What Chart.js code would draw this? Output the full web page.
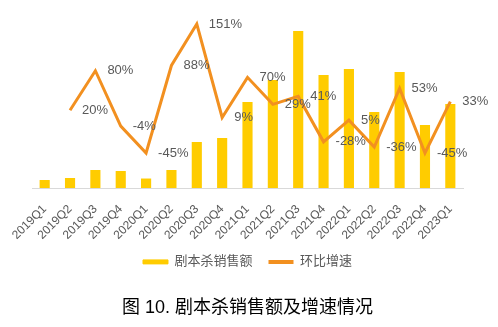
<!DOCTYPE html>
<html>
<head>
<meta charset="utf-8">
<script src="https://cdn.jsdelivr.net/npm/chart.js@4"></script>
<style>
  html, body { margin: 0; padding: 0; background: #fff; }
  #wrap { width: 498px; height: 327px; }
</style>
</head>
<body>
<div id="wrap"><canvas id="c" width="498" height="327"></canvas></div>
<script>
const categories = ['2019Q1','2019Q2','2019Q3','2019Q4','2020Q1','2020Q2','2020Q3','2020Q4',
  '2021Q1','2021Q2','2021Q3','2021Q4','2022Q1','2022Q2','2022Q3','2022Q4','2023Q1'];
// 剧本杀销售额 (relative values)
const salesValues = [8, 10, 18, 17, 9.5, 18, 46, 50, 86, 108, 157, 113, 119, 76, 116, 63, 84];
// 环比增速 (%)
const growthValues = [null, 20, 80, -4, -45, 88, 151, 9, 70, 29, 41, -28, 5, -36, 53, -45, 33];
const seriesNames = ['剧本杀销售额', '环比增速'];
const titleText = '图 10. 剧本杀销售额及增速情况';

const BAR_COLOR = '#FFCC00';
const LINE_COLOR = '#F29020';
const TEXT_COLOR = '#595959';
const FONT = '"Liberation Sans", Arial, "Noto Sans CJK SC", sans-serif';

const labelPlugin = {
  id: 'pctLabels',
  afterDatasetsDraw(chart) {
    const meta = chart.getDatasetMeta(1);
    const ctx = chart.ctx;
    ctx.save();
    ctx.font = '13px ' + FONT;
    ctx.fillStyle = TEXT_COLOR;
    ctx.textAlign = 'left';
    ctx.textBaseline = 'middle';
    meta.data.forEach((pt, i) => {
      const v = growthValues[i];
      if (v === null || v === undefined) return;
      ctx.fillText(v + '%', pt.x + 12, pt.y);
    });
    ctx.restore();
  }
};

new Chart(document.getElementById('c'), {
  data: {
    labels: categories,
    datasets: [
      {
        type: 'bar',
        label: seriesNames[0],
        data: salesValues,
        backgroundColor: BAR_COLOR,
        borderWidth: 0,
        barPercentage: 0.4,
        categoryPercentage: 1,
        yAxisID: 'y',
        order: 2
      },
      {
        type: 'line',
        label: seriesNames[1],
        data: growthValues,
        borderColor: LINE_COLOR,
        backgroundColor: LINE_COLOR,
        borderWidth: 3,
        pointRadius: 0,
        tension: 0,
        spanGaps: false,
        yAxisID: 'y1',
        order: 1
      }
    ]
  },
  options: {
    responsive: false,
    animation: false,
    devicePixelRatio: 1,
    layout: { padding: { left: 32, right: 35, top: 10, bottom: 0 } },
    plugins: {
      tooltip: { enabled: false },
      legend: {
        position: 'bottom',
        labels: {
          sort: (a, b) => a.datasetIndex - b.datasetIndex,
          boxWidth: 25,
          boxHeight: 4,
          padding: 16,
          color: TEXT_COLOR,
          font: { size: 13, family: FONT },
          generateLabels(chart) {
            return chart.data.datasets.map((ds, i) => ({
              text: ds.label,
              fillStyle: ds.type === 'bar' ? BAR_COLOR : LINE_COLOR,
              strokeStyle: ds.type === 'bar' ? BAR_COLOR : LINE_COLOR,
              lineWidth: ds.type === 'bar' ? 1 : 0,
              fontColor: TEXT_COLOR,
              hidden: false,
              datasetIndex: i
            }));
          }
        }
      },
      title: {
        display: true,
        position: 'bottom',
        text: titleText,
        color: '#000',
        font: { size: 18, family: FONT, weight: 'normal' },
        padding: { top: 19, bottom: 8 }
      }
    },
    scales: {
      x: {
        offset: true,
        grid: { display: false },
        border: { display: true, color: '#D9D9D9', width: 1 },
        ticks: {
          maxRotation: 45, minRotation: 45,
          color: TEXT_COLOR,
          font: { size: 12, family: FONT },
          padding: 6,
          autoSkip: false
        },
        afterFit(scale) { scale.height -= 9; }
      },
      y: {
        display: false,
        min: 0,
        max: 178
      },
      y1: {
        display: false,
        position: 'right',
        min: -98.2,
        max: 172.3
      }
    }
  },
  plugins: [labelPlugin]
});
</script>
</body>
</html>
